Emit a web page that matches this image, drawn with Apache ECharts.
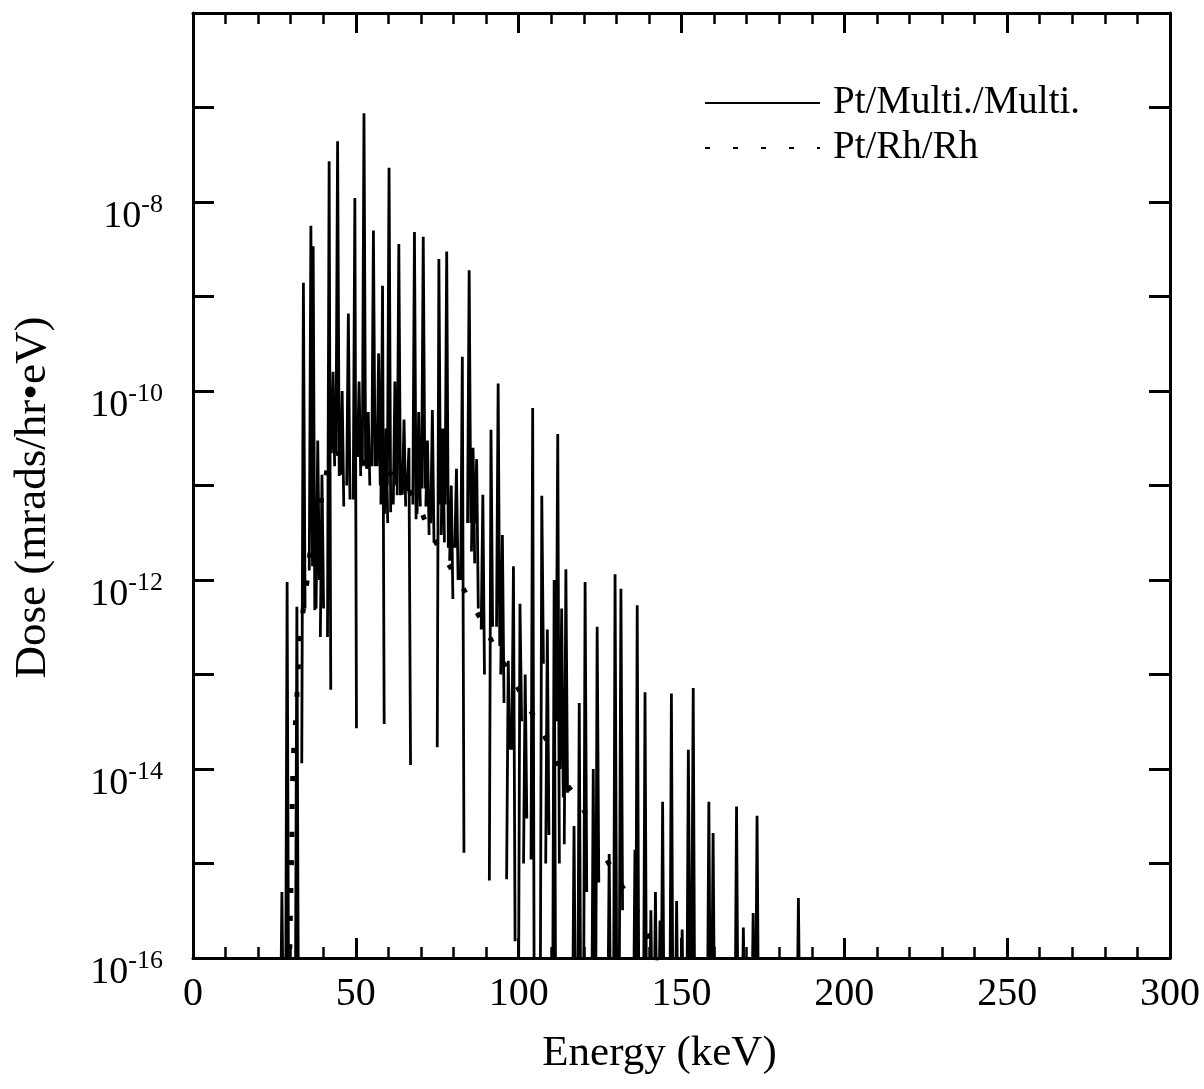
<!DOCTYPE html>
<html>
<head>
<meta charset="utf-8">
<script src="https://cdn.jsdelivr.net/npm/echarts@6/dist/echarts.min.js"></script>
<style>
  html, body { margin: 0; padding: 0; background: #fff; }
  #chart { width: 1204px; height: 1089px; }
</style>
</head>
<body>
<div id="chart"></div>
<script>
// ---- data (energy in keV, dose in mrads/hr·eV) ----
var seriesNames = ['Pt/Multi./Multi.', 'Pt/Rh/Rh'];

// Pt/Multi./Multi. : each line (peak) with the low values on its two sides
var spikeEnergy = [
  27.3, 28.9, 31.9, 33.9, 36.2, 36.9, 38.3, 39.6, 41.8, 43.0,
  44.4, 45.8, 47.7, 49.7, 51.0, 52.5, 53.8, 55.4, 57.0, 58.2,
  59.3, 60.2, 62.0, 63.2, 64.8, 66.3, 68.0, 69.3, 70.7, 72.0,
  73.5, 75.5, 76.7, 77.9, 79.3, 80.9, 82.7, 84.8, 86.0, 87.1,
  89.0, 91.5, 93.7, 95.0, 96.8, 98.4, 100.4, 102.0, 104.3, 107.1,
  108.8, 110.9, 112.0, 113.2, 114.5, 117.0, 118.6, 120.4, 122.9, 124.1,
  127.8, 129.6, 131.4, 135.7, 136.4, 138.8, 140.6, 142.0, 143.4, 144.2,
  146.9, 148.5, 150.2, 152.1, 153.6, 158.4, 159.7, 166.9, 169.0, 172.0,
  173.2, 185.9
];
var spikePeak = [
  5.0e-16, 9.5e-13, 5.2e-13, 1.4e-9, 5.6e-9, 3.4e-9, 3.0e-11, 1.3e-11, 2.7e-8, 1.6e-10,
  4.4e-8, 1.0e-10, 6.6e-10, 1.1e-8, 1.26e-10, 8.7e-8, 6.0e-11, 5.0e-9, 2.5e-10, 1.3e-9,
  4.0e-11, 2.3e-8, 1.26e-10, 3.6e-9, 5.0e-11, 2.5e-11, 4.8e-9, 6.0e-11, 4.3e-9, 3.0e-11,
  6.3e-11, 2.5e-9, 4.0e-11, 3.0e-9, 1.0e-11, 1.5e-11, 2.3e-10, 1.9e-9, 2.5e-11, 1.9e-11,
  8.0e-12, 3.9e-11, 1.2e-10, 3.0e-12, 1.4e-13, 1.4e-12, 5.6e-13, 1.0e-13, 6.6e-11, 7.8e-12,
  3.0e-13, 1.0e-12, 3.5e-11, 5.0e-13, 1.3e-12, 2.5e-15, 5.0e-14, 9.5e-13, 1.0e-14, 3.2e-13,
  1.26e-15, 1.15e-12, 8.1e-13, 1.4e-15, 5.4e-13, 6.5e-14, 3.2e-16, 5.0e-16, 2.5e-16, 4.5e-15,
  6.3e-14, 4.0e-16, 2.0e-16, 1.6e-14, 7.2e-14, 4.5e-15, 2.1e-15, 4.0e-15, 2.1e-16, 3.0e-16,
  3.2e-15, 4.3e-16
];
var spikeFloorLeft = [
  1e-17, 1e-17, 1e-17, 1.15e-14, 1.26e-12, 3.2e-12, 5.0e-13, 2.5e-13, 2.5e-13, 2.2e-11,
  2.2e-11, 1.3e-11, 1.0e-11, 7.1e-12, 2.0e-11, 1.6e-11, 1.5e-11, 1.6e-11, 1.6e-11, 6.3e-12,
  5.0e-12, 1.0e-11, 6.3e-12, 7.9e-12, 8.0e-12, 8.7e-12, 6.3e-12, 5.0e-12, 9.3e-12, 6.0e-12,
  4.0e-12, 1.7e-14, 3.0e-12, 6.3e-12, 1.6e-12, 2.2e-12, 1.0e-12, 4.0e-12, 2.0e-12, 4.0e-12,
  3.0e-13, 6.6e-16, 3.2e-13, 1.0e-13, 6.8e-16, 1.6e-14, 1e-17, 1.0e-15, 1.1e-15, 1e-17,
  1.0e-15, 1e-17, 3.2e-14, 1.0e-14, 1.6e-15, 1e-17, 1e-17, 1e-17, 1e-17, 1e-17,
  1e-17, 1e-17, 6.3e-17, 1e-17, 1e-17, 1e-17, 1e-17, 1e-17, 1e-17, 1e-17,
  1e-17, 1e-17, 1e-17, 1e-17, 6.3e-17, 1e-17, 1e-17, 1e-17, 1e-17, 1e-17,
  1e-17, 1e-17
];
var spikeFloorRight = [
  1e-17, 1e-17, 1e-17, 5.0e-13, 1.4e-12, 4.8e-13, 1.0e-12, 5.0e-13, 6.9e-14, 1.6e-11,
  1.26e-11, 6.0e-12, 7.1e-12, 2.7e-14, 1.26e-11, 1.6e-11, 1.0e-11, 1.6e-11, 1.0e-11, 3.0e-14,
  4.0e-12, 5.2e-12, 1.0e-11, 7.9e-12, 6.0e-12, 1.1e-14, 4.4e-12, 6.0e-12, 9.3e-12, 3.0e-12,
  2.5e-12, 6.3e-12, 2.5e-12, 2.2e-12, 6.3e-13, 1.0e-12, 1.3e-15, 4.0e-12, 1.5e-12, 5.0e-13,
  1.0e-13, 3.2e-13, 2.0e-13, 5.0e-14, 1.6e-14, 1.5e-16, 3.2e-14, 3.0e-15, 1e-17, 1.3e-13,
  2.0e-15, 1e-17, 1.0e-15, 5.0e-15, 5.6e-15, 1e-17, 1e-17, 5.0e-16, 1e-17, 6.3e-16,
  1e-17, 6.3e-17, 3.2e-16, 1e-17, 3e-17, 1e-17, 1e-17, 1e-17, 1e-17, 1e-17,
  1e-17, 1e-17, 1e-17, 6.3e-17, 1e-17, 1e-17, 1e-17, 1e-17, 1e-17, 1e-17,
  1e-17, 1e-17
];

// Pt/Rh/Rh : the dotted curve
var rhEnergy = [
  29.6, 29.8, 30.3, 30.7, 31.6, 33.0, 34.9, 36.9, 39.0, 40.6,
  43.1, 55.0, 65.0, 74.3, 88.1, 92.2, 105.5, 109.6, 113.7, 118.8,
  126.5, 130.9, 139.6, 143.0
];
var rhDose = [
  6.3e-17, 1.8e-16, 1.4e-15, 1.0e-14, 3.7e-14, 2.5e-13, 9.1e-13, 3.2e-12, 6.0e-12, 1.15e-11,
  2.2e-11, 1.6e-11, 1.0e-11, 2.6e-12, 4.0e-13, 2.1e-13, 3.2e-14, 1.7e-14, 7.9e-15, 4.4e-15,
  1.2e-15, 6.5e-16, 1.8e-16, 6.3e-17
];

var xTickLabels = ['0', '50', '100', '150', '200', '250', '300'];
var yLabelExponents = [-16, -14, -12, -10, -8];

// ---- build options ----
var LINE_HALF_WIDTH_KEV = 0.5; // drawing width of each line's base (style)
function spikeData() {
  var out = [];
  for (var i = 0; i < spikeEnergy.length; i++) {
    out.push([spikeEnergy[i] - LINE_HALF_WIDTH_KEV, spikeFloorLeft[i]]);
    out.push([spikeEnergy[i], spikePeak[i]]);
    out.push([spikeEnergy[i] + LINE_HALF_WIDTH_KEV, spikeFloorRight[i]]);
    out.push(['-', '-']);
  }
  return out;
}
function pairs(xs, ys) {
  var out = [];
  for (var i = 0; i < xs.length; i++) out.push([xs[i], ys[i]]);
  return out;
}

var FONT = '"Liberation Serif", "Times New Roman", serif';
var chart = echarts.init(document.getElementById('chart'), null, { renderer: 'canvas' });

var frameLine = { show: true, onZero: false, lineStyle: { color: '#000', width: 3 } };

chart.setOption({
  backgroundColor: '#fff',
  animation: false,
  grid: { left: 193, right: 34, top: 13, bottom: 131, containLabel: false },
  legend: {
    orient: 'vertical',
    left: 699,
    top: 78,
    itemWidth: 115,
    itemHeight: 14,
    itemGap: 5,
    data: seriesNames,
    itemStyle: { color: 'rgba(0,0,0,0)', borderWidth: 0 },
    textStyle: { fontFamily: FONT, fontSize: 39, color: '#000', lineHeight: 40, padding: [0, 0, 0, 8] }
  },
  xAxis: [
    {
      type: 'value', position: 'bottom', min: 0, max: 300, interval: 50,
      axisLine: frameLine,
      axisTick: { show: true, inside: true, length: 20, lineStyle: { color: '#000', width: 3 } },
      minorTick: { show: true, splitNumber: 5, length: 11, lineStyle: { color: '#000', width: 2.5 } },
      splitLine: { show: false },
      axisLabel: {
        margin: 16, fontFamily: FONT, fontSize: 40, color: '#000',
        formatter: function (v) { return xTickLabels[Math.round(v / 50)]; }
      },
      name: 'Energy (keV)', nameLocation: 'middle', nameGap: 74,
      nameTextStyle: { fontFamily: FONT, fontSize: 43, color: '#000', padding: [0, 44, 0, 0] }
    },
    {
      type: 'value', position: 'top', min: 0, max: 300, interval: 50,
      axisLine: frameLine,
      axisTick: { show: true, inside: true, length: 20, lineStyle: { color: '#000', width: 3 } },
      minorTick: { show: true, splitNumber: 5, length: 11, lineStyle: { color: '#000', width: 2.5 } },
      splitLine: { show: false },
      axisLabel: { show: false }
    }
  ],
  yAxis: [
    {
      type: 'log', logBase: 10, position: 'left', min: 1e-16, max: 1e-6, interval: 1,
      axisLine: frameLine,
      axisTick: { show: true, inside: true, length: 21, lineStyle: { color: '#000', width: 3 } },
      minorTick: { show: false },
      splitLine: { show: false },
      axisLabel: {
        margin: 30,
        padding: [24, 0, 0, 0],
        formatter: function (v) {
          var e = Math.round(Math.log(v) / Math.LN10);
          if (yLabelExponents.indexOf(e) < 0) return '';
          return '{b|10}{s|' + e + '}';
        },
        rich: {
          b: { fontFamily: FONT, fontSize: 38, color: '#000', lineHeight: 44, verticalAlign: 'bottom' },
          s: { fontFamily: FONT, fontSize: 26, color: '#000', lineHeight: 44, verticalAlign: 'top' }
        }
      },
      name: 'Dose (mrads/hr\u2022eV)', nameLocation: 'middle', nameGap: 137,
      nameTextStyle: { fontFamily: FONT, fontSize: 45, color: '#000', padding: [0, 24, 0, 0] }
    },
    {
      type: 'log', logBase: 10, position: 'right', min: 1e-16, max: 1e-6, interval: 1,
      axisLine: frameLine,
      axisTick: { show: true, inside: true, length: 21, lineStyle: { color: '#000', width: 3 } },
      minorTick: { show: false },
      splitLine: { show: false },
      axisLabel: { show: false }
    }
  ],
  series: [
    {
      name: seriesNames[0], type: 'line', xAxisIndex: 0, yAxisIndex: 0,
      data: spikeData(),
      connectNulls: false,
      symbol: 'none', showSymbol: false, clip: true, smooth: false,
      lineStyle: { color: '#000', width: 2.8, type: 'solid' },
      itemStyle: { color: '#000' },
      z: 3
    },
    {
      name: seriesNames[1], type: 'line', xAxisIndex: 0, yAxisIndex: 0,
      data: pairs(rhEnergy, rhDose),
      symbol: 'none', showSymbol: false, clip: true, smooth: true,
      lineStyle: { color: '#000', width: 5, type: [5, 23] },
      itemStyle: { color: '#000' },
      z: 4
    }
  ]
});
</script>
</body>
</html>
